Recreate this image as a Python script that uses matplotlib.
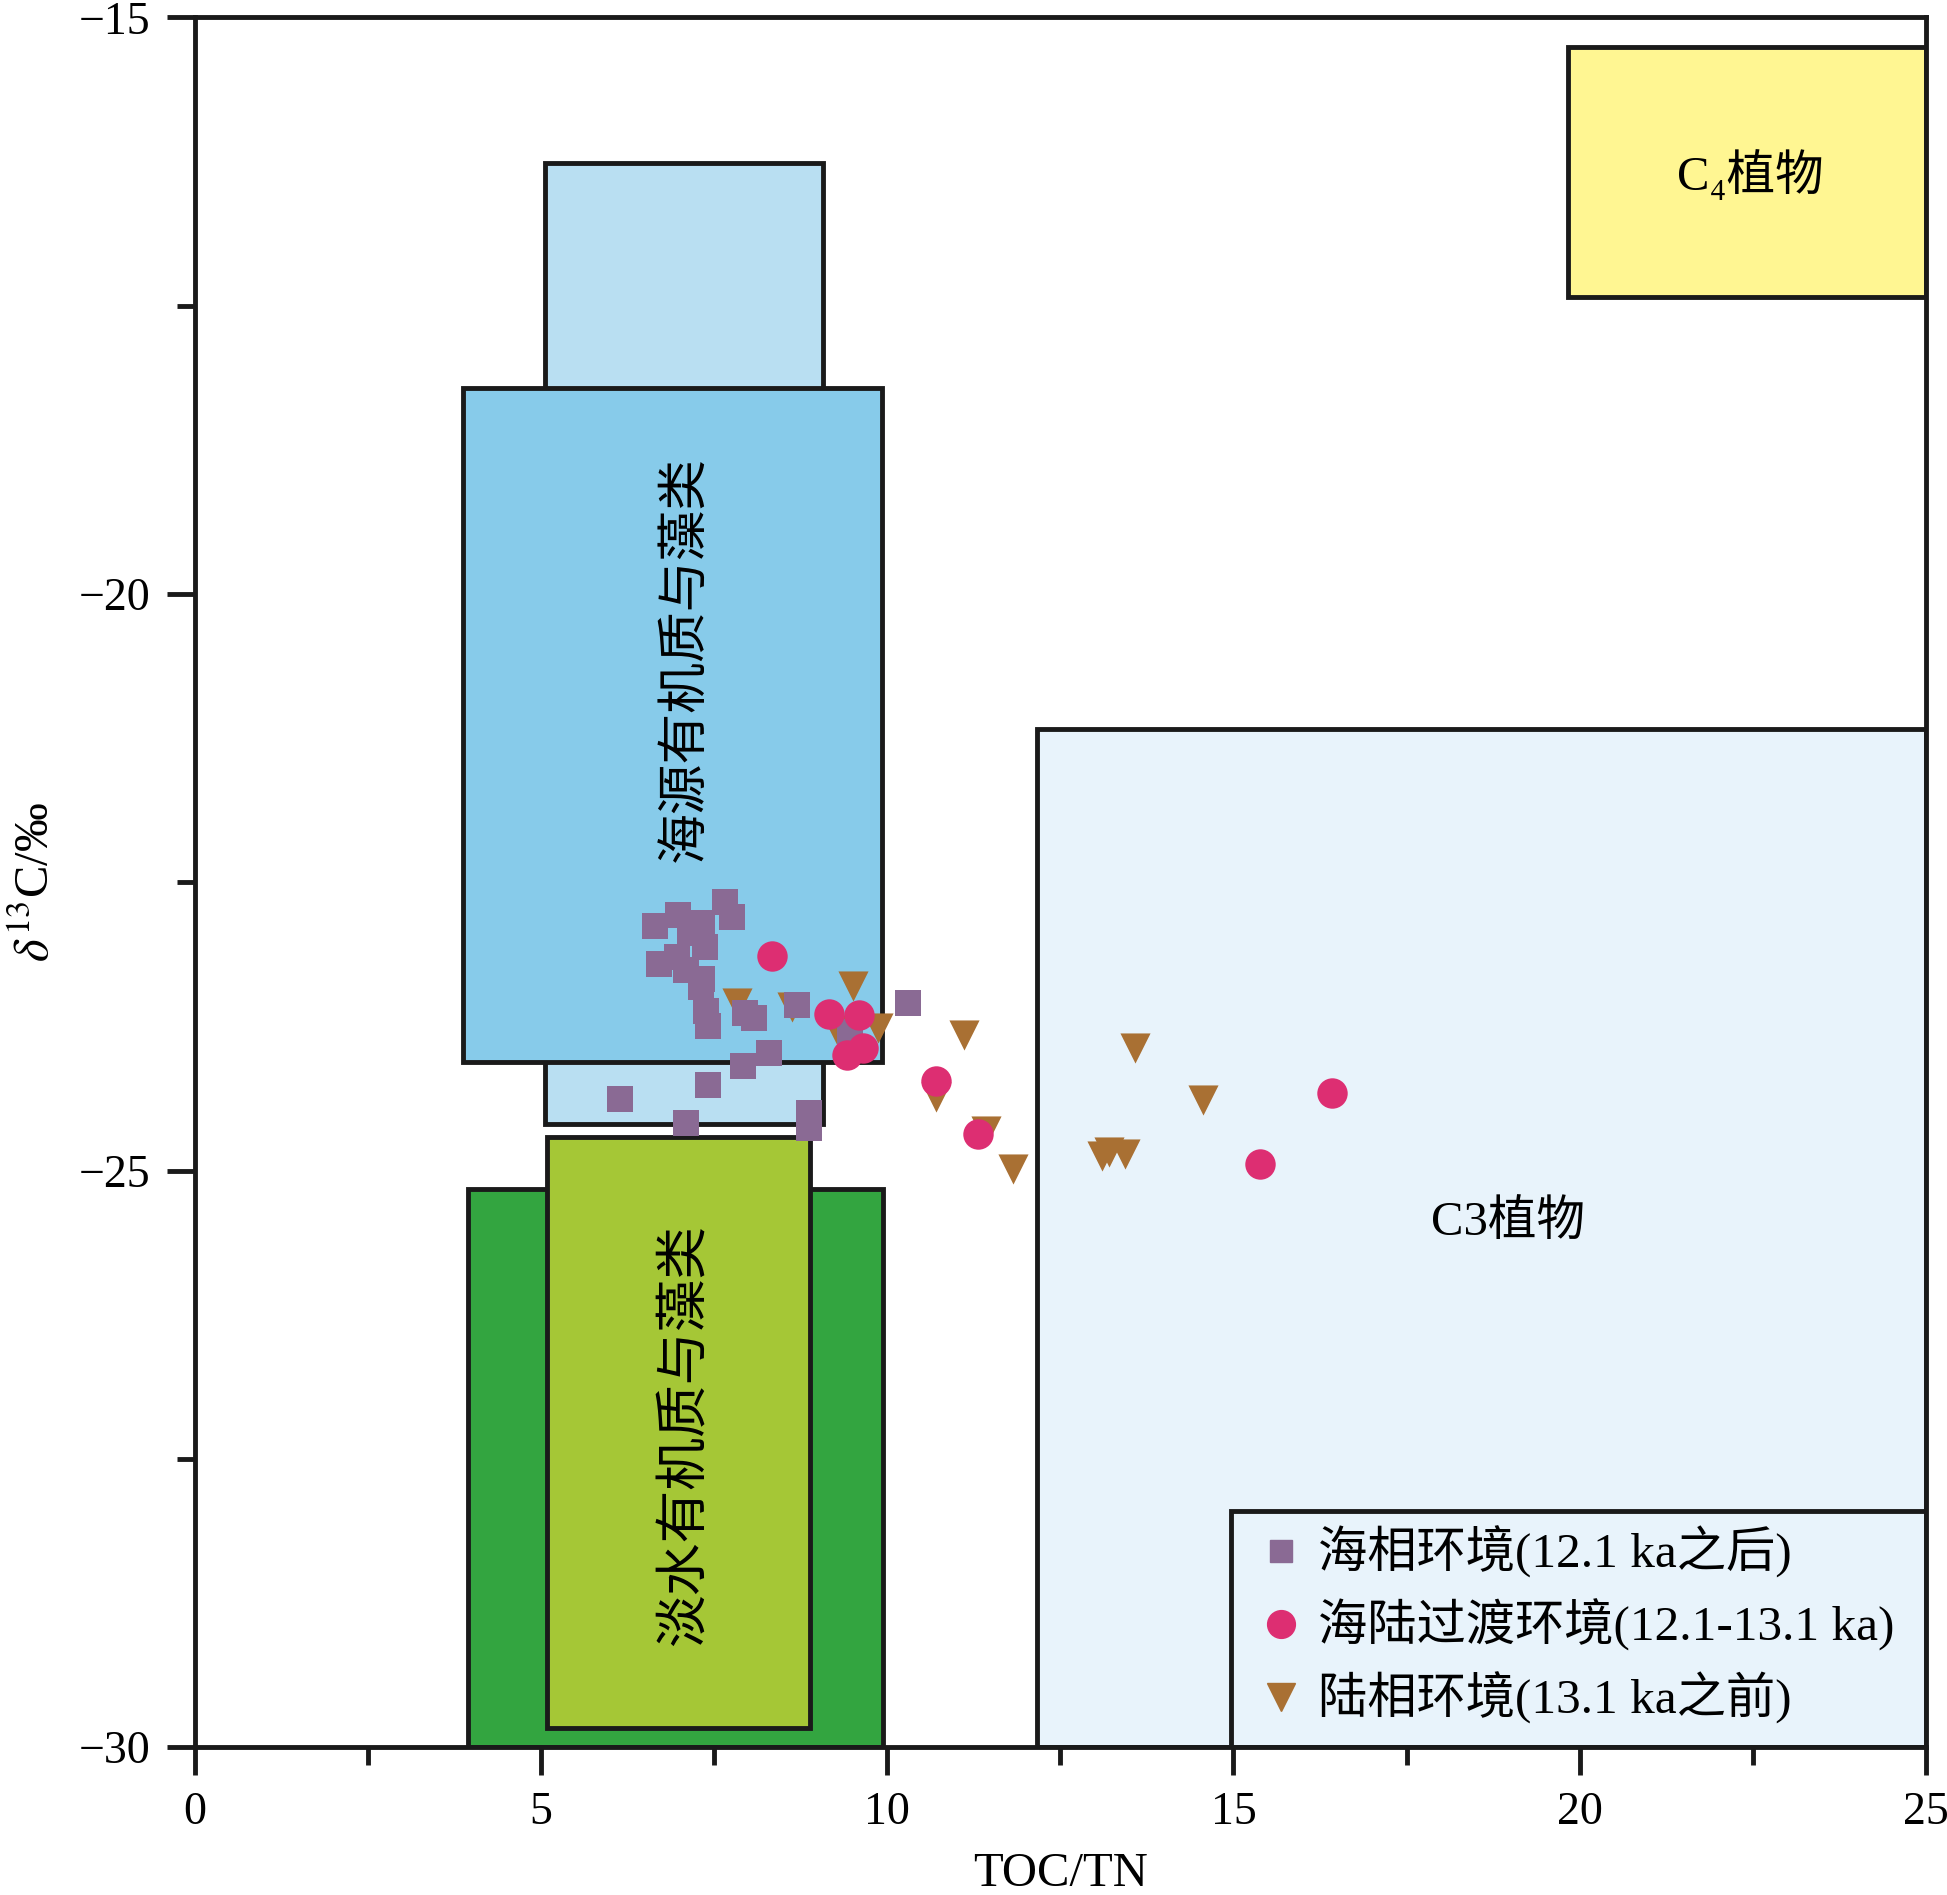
import matplotlib
matplotlib.use('Agg')
import matplotlib.pyplot as plt
from matplotlib.patches import Rectangle
from matplotlib.lines import Line2D

plt.rcParams['font.family'] = ['Liberation Serif', 'Noto Sans CJK SC', 'DejaVu Sans']
plt.rcParams['mathtext.fontset'] = 'stix'

# 数据：海相环境(12.1 ka之后)
sea_x = [7.66, 7.76, 6.64, 6.98, 7.32, 7.37, 6.97, 6.70, 7.09, 7.32, 7.31, 7.38, 7.41,
         7.94, 8.08, 8.69, 8.29, 7.92, 7.41, 6.14, 7.09, 8.87, 8.87, 10.30, 9.46, 7.15]
sea_y = [-22.67, -22.80, -22.88, -22.78, -22.85, -23.06, -23.15, -23.21, -23.26, -23.34,
         -23.41, -23.62, -23.75, -23.63, -23.68, -23.56, -23.98, -24.09, -24.26, -24.38,
         -24.59, -24.50, -24.63, -23.55, -23.80, -22.94]

# 海陆过渡环境(12.1-13.1 ka)
trans_x = [8.33, 9.16, 9.59, 9.65, 9.42, 10.70, 11.31, 15.38, 16.42]
trans_y = [-23.14, -23.64, -23.65, -23.94, -24.00, -24.22, -24.68, -24.94, -24.33]

# 陆相环境(13.1 ka之前)
land_x = [7.83, 8.62, 9.50, 9.87, 9.27, 11.11, 10.70, 11.42, 11.82, 13.58, 14.56,
          13.10, 13.43, 13.20]
land_y = [-23.55, -23.58, -23.40, -23.76, -23.78, -23.82, -24.36, -24.66, -24.99,
          -23.94, -24.39, -24.87, -24.86, -24.84]

# 区域框 (x0, x1, y0, y1)
boxes = [
    (5.06, 9.07, -24.60, -16.26, '#b9dff2'),   # 海源 浅色
    (3.87, 9.92, -24.06, -18.21, '#87cbea'),   # 海源有机质与藻类
    (3.95, 9.94, -30.00, -25.16, '#33a540'),   # 淡水 深绿
    (5.09, 8.88, -29.83, -24.71, '#a5c736'),   # 淡水有机质与藻类
    (19.83, 25.0, -17.42, -15.26, '#fff692'),  # C4植物
    (12.16, 25.0, -30.00, -21.17, '#e8f3fb'),  # C3植物
]

fig = plt.figure(figsize=(19.47, 18.95), dpi=100)
ax = fig.add_axes([0.1001, 0.078, 0.889, 0.9128])

for i, (x0, x1, y0, y1, c) in enumerate(boxes):
    ax.add_patch(Rectangle((x0, y0), x1 - x0, y1 - y0, facecolor=c,
                           edgecolor='#1a1a1a', linewidth=3.5, zorder=1 + i * 0.1))

ax.text(7.10, -20.56, '海源有机质与藻类', rotation=90, ha='center', va='center',
        fontsize=36.5, zorder=3)
ax.text(7.10, -27.29, '淡水有机质与藻类', rotation=90, ha='center', va='center',
        fontsize=38, zorder=3)
ax.text(18.97, -25.45, 'C3植物', ha='center', va='center', fontsize=35, zorder=3)
ax.text(22.47, -16.36, 'C₄植物', ha='center', va='center', fontsize=35, zorder=3)

ax.scatter(sea_x, sea_y, marker='s', s=330, color='#8a6a94', linewidths=0, zorder=5)
ax.scatter(trans_x, trans_y, marker='o', s=480, color='#dd2e72', linewidths=0, zorder=6)
ax.scatter(land_x, land_y, marker='v', s=470, color='#a97033', linewidths=0, zorder=4)

# 图例框
ax.add_patch(Rectangle((14.97, -30), 10.03, 2.05, facecolor='#e8f3fb',
                       edgecolor='#1a1a1a', linewidth=3.5, zorder=7))
handles = [
    Line2D([], [], marker='s', color='#8a6a94', linestyle='', markersize=16),
    Line2D([], [], marker='o', color='#dd2e72', linestyle='', markersize=20),
    Line2D([], [], marker='v', color='#a97033', linestyle='', markersize=20),
]
labels = ['海相环境(12.1 ka之后)', '海陆过渡环境(12.1-13.1 ka)', '陆相环境(13.1 ka之前)']
leg = ax.legend(handles, labels, loc='center left', bbox_to_anchor=(0.602, 0.0705),
                frameon=False, fontsize=35.5, handletextpad=0.25, labelspacing=0.42,
                handlelength=1.0, borderaxespad=0.0)
leg.set_zorder(8)

ax.set_xlim(0, 25)
ax.set_ylim(-30, -15)
ax.set_xticks([0, 5, 10, 15, 20, 25])
ax.set_xticks([2.5, 7.5, 12.5, 17.5, 22.5], minor=True)
ax.set_yticks([-30, -25, -20, -15])
ax.set_yticks([-27.5, -22.5, -17.5], minor=True)
ax.tick_params(which='major', length=20, width=3.5, labelsize=33, color='#1a1a1a', pad=12)
ax.tick_params(which='minor', length=13, width=3.5, color='#1a1a1a')
for s in ax.spines.values():
    s.set_linewidth(3.5)
    s.set_color('#1a1a1a')
    s.set_zorder(10)

ax.set_xlabel('TOC/TN', fontsize=35, labelpad=13)
ax.set_ylabel(r'$\delta^{13}$C/‰', fontsize=35, labelpad=14)

fig.savefig('out.png', dpi=100)
